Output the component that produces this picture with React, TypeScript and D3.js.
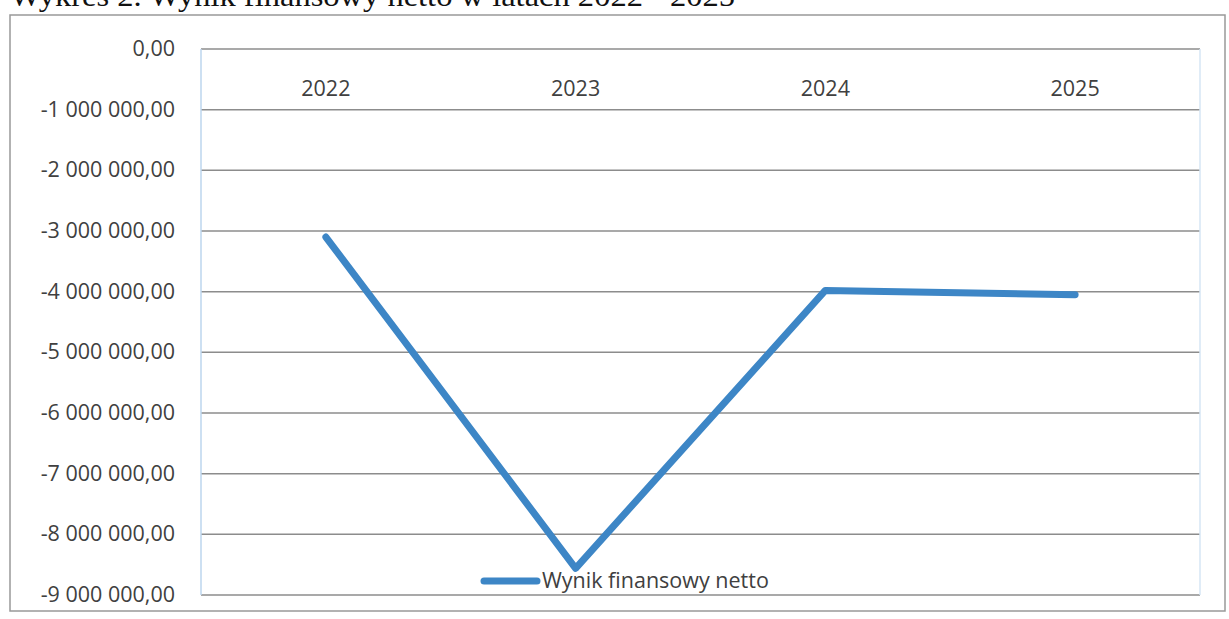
import React from "react";
import * as d3 from "d3";

const categories = ["2022", "2023", "2024", "2025"];
const seriesName = "Wynik finansowy netto";
const values = [-3100000, -8560000, -3980000, -4050000];
const yTicks = [0, -1000000, -2000000, -3000000, -4000000, -5000000, -6000000, -7000000, -8000000, -9000000];
const title = "Wykres 2. Wynik finansowy netto w latach 2022 - 2025";

const fmt = (v: number) => {
  const s = Math.abs(v).toFixed(2).replace(".", ",");
  const [int, dec] = s.split(",");
  const grouped = int.replace(/\B(?=(\d{3})+(?!\d))/g, " ");
  return (v < 0 ? "-" : "") + grouped + "," + dec;
};

export default function App() {
  const W = 1229, H = 619;
  const left = 201, right = 1200, top = 49, bottom = 595;
  const x = d3.scaleBand<string>().domain(categories).range([left, right]);
  const y = d3.scaleLinear().domain([0, -9000000]).range([top, bottom]);
  const line = d3.line<number>()
    .x((_, i) => (x(categories[i]) as number) + x.bandwidth() / 2)
    .y((d) => y(d));
  const font = "'Open Sans', Lato, sans-serif";
  return (
    <svg width={W} height={H} style={{ position: "absolute", left: 0, top: 0, background: "#fff" }}>
      <text x={10} y={6} fontFamily="'Liberation Serif', 'Times New Roman', serif" fontSize={30} fill="#111" textLength={725} lengthAdjust="spacingAndGlyphs">{title}</text>
      <rect x={10} y={15} width={1215} height={596} fill="none" stroke="#999" strokeWidth={1.5} />
      {yTicks.map((t) => (
        <g key={t}>
          <line x1={left} x2={right} y1={y(t)} y2={y(t)} stroke="#8c8c8c" strokeWidth={1.5} />
          <text x={175} y={y(t) + 7} textAnchor="end" fontFamily={font} fontSize={21.5} fill="#404040">{fmt(t)}</text>
        </g>
      ))}
      <line x1={left} x2={left} y1={top} y2={bottom} stroke="#bcd6ee" strokeWidth={1.5} />
      <line x1={right} x2={right} y1={top} y2={bottom} stroke="#d6e6f4" strokeWidth={1.5} />
      {categories.map((c) => (
        <text key={c} x={(x(c) as number) + x.bandwidth() / 2} y={96} textAnchor="middle" fontFamily={font} fontSize={21.5} fill="#404040">{c}</text>
      ))}
      <path d={line(values) || ""} fill="none" stroke="#3d86c6" strokeWidth={7} strokeLinejoin="round" strokeLinecap="round" />
      <line x1={484} x2={537} y1={581} y2={581} stroke="#3d86c6" strokeWidth={7} strokeLinecap="round" />
      <text x={542} y={588} fontFamily={font} fontSize={21.5} fill="#404040">{seriesName}</text>
    </svg>
  );
}
